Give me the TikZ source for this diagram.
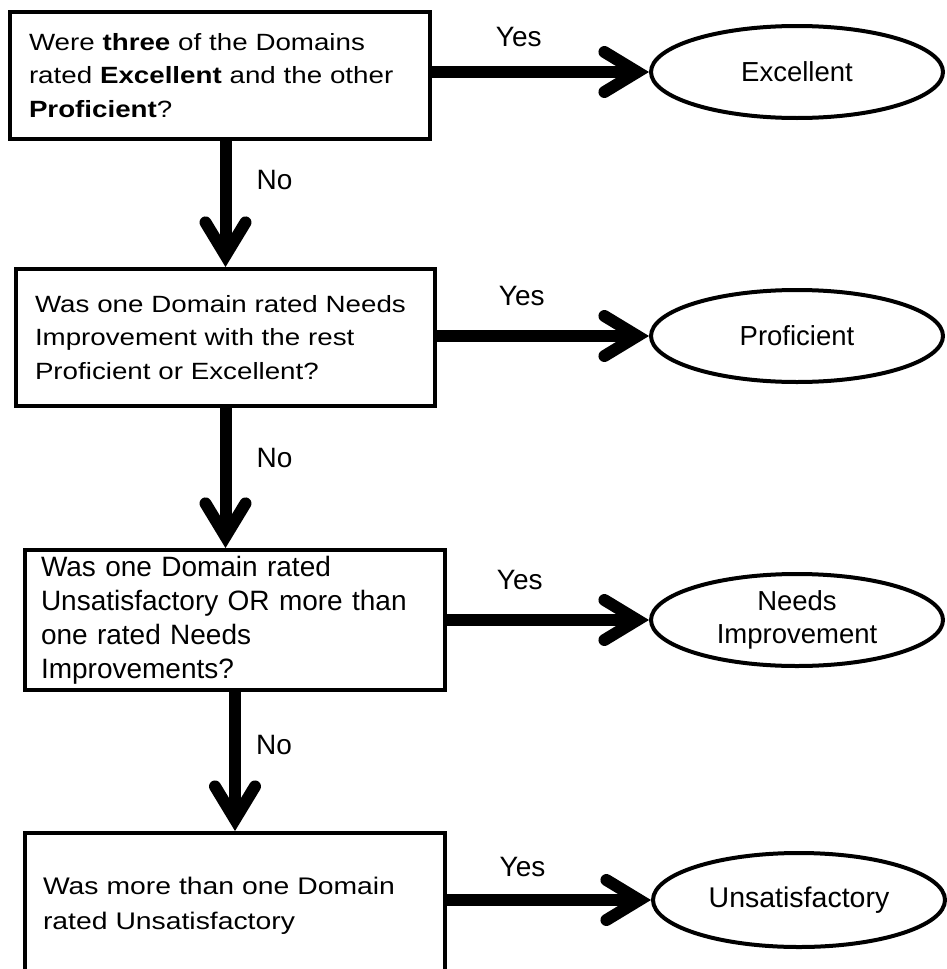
\documentclass[tikz,border=0pt]{standalone}
\usepackage{fontspec}
\setmainfont{Liberation Sans}
\newfontfamily\wideface[FakeStretch=1.18]{Liberation Sans}
\usetikzlibrary{arrows.meta,shapes.geometric}

\begin{document}
\begin{tikzpicture}[x=1pt,y=-1pt,
  question/.style={draw, line width=4pt, rectangle, anchor=north west,
    inner sep=0pt, align=left},
  widetext/.style={font=\wideface\fontsize{23.5}{33.5}\selectfont},
  outcome/.style={draw, line width=4pt, ellipse, inner sep=0pt,
    minimum width=292pt, minimum height=92pt, align=center,
    font=\fontsize{27.5}{33}\selectfont},
  flow/.style={line width=12pt,
    -{Straight Barb[length=33pt,width=40pt,line cap=round,line join=miter]}},
  tag/.style={font=\fontsize{28}{30}\selectfont, inner sep=0pt}]

\useasboundingbox (0,0) rectangle (946,969);

% decision boxes
\node[question, widetext, minimum width=420pt, minimum height=127pt, text width=382pt]
  (q1) at (8,10)
  {\mbox{Were \textbf{three} of the Domains}\\
   \mbox{rated \textbf{Excellent} and the other}\\
   \mbox{\textbf{Proficient}?}};
\node[question, widetext, minimum width=419pt, minimum height=137pt, text width=381pt]
  (q2) at (14,267)
  {\mbox{Was one Domain rated Needs}\\
   \mbox{Improvement with the rest}\\
   \mbox{Proficient or Excellent?}};
\node[question, font=\fontsize{28}{34}\selectfont, minimum width=420pt, minimum height=140pt, text width=388pt]
  (q3) at (23,548)
  {\mbox{Was one Domain rated}\\
   \mbox{Unsatisfactory OR more than}\\
   \mbox{one rated Needs}\\
   \mbox{Improvements?}};
\node[question, font=\wideface\fontsize{24}{35}\selectfont, minimum width=420pt, minimum height=145pt, text width=384pt]
  (q4) at (23,831)
  {\mbox{Was more than one Domain}\\
   \mbox{rated Unsatisfactory}};

% ratings
\node[outcome] (e1) at (797,72) {Excellent};
\node[outcome] (e2) at (797,336) {Proficient};
\node[outcome] (e3) at (797,620) {Needs\\Improvement};
\node[outcome, minimum height=94pt, font=\fontsize{28.5}{33}\selectfont] (e4) at (799,900) {Unsatisfactory};

% yes branches
\draw[flow] (q1.east |- e1) -- node[tag, pos=0.4, yshift=35pt] {Yes} (e1.west);
\draw[flow] (q2.east |- e2) -- node[tag, pos=0.4, yshift=40pt] {Yes} (e2.west);
\draw[flow] (q3.east |- e3) -- node[tag, pos=0.36, yshift=40pt] {Yes} (e3.west);
\draw[flow] (q4.east |- e4) -- node[tag, pos=0.37, yshift=33pt] {Yes} (e4.west);

% no branches
\draw[flow] (q2.north |- q1.south) -- node[tag, pos=0.31, xshift=49pt] {No} (q2.north);
\draw[flow] (q2.south) -- node[tag, pos=0.36, xshift=49pt] {No} (q2.south |- q3.north);
\draw[flow] (q3.south) -- node[tag, pos=0.38, xshift=39pt] {No} (q4.north);
\end{tikzpicture}
\end{document}
